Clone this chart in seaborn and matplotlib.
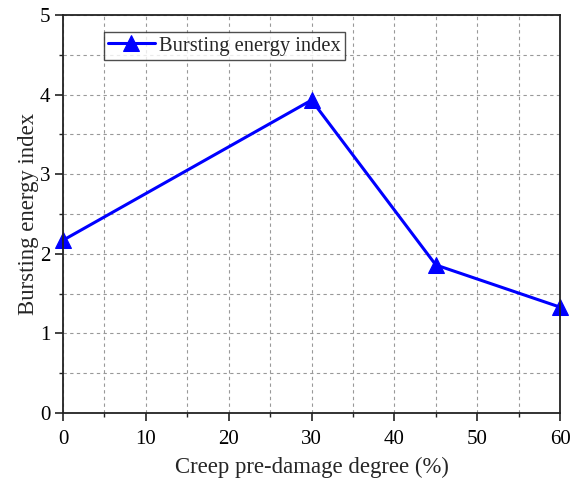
import matplotlib
matplotlib.use("Agg")
import matplotlib.pyplot as plt
import seaborn as sns
import pandas as pd
from matplotlib.ticker import MultipleLocator

degree = [0, 30, 45, 60]
energy_index = [2.17, 3.93, 1.86, 1.33]
series_name = "Bursting energy index"

df = pd.DataFrame({"x": degree, "y": energy_index})

sns.set_style("white")
plt.rcParams["font.family"] = ["Liberation Serif", "DejaVu Serif"]
plt.rcParams["mathtext.fontset"] = "stix"

fig = plt.figure(figsize=(5.8, 4.86), dpi=100)
ax = fig.add_axes([0.1086, 0.1502, 0.857, 0.819])

sns.lineplot(data=df, x="x", y="y", ax=ax, color="#0000ff", lw=2.2,
             marker="^", markersize=12, markeredgecolor="#0000ff",
             label=series_name)

ax.set_xlim(0, 60)
ax.set_ylim(0, 5)
ax.xaxis.set_major_locator(MultipleLocator(10))
ax.xaxis.set_minor_locator(MultipleLocator(5))
ax.yaxis.set_major_locator(MultipleLocator(1))
ax.yaxis.set_minor_locator(MultipleLocator(0.5))
ax.grid(True, which="both", ls=(0, (3, 3)), color="#999999", lw=0.8)
ax.set_axisbelow(True)
for s in ax.spines.values():
    s.set_color("#222222")
    s.set_linewidth(1.3)
ax.tick_params(which="major", direction="out", length=6, width=1.2, labelsize=15,
               left=True, bottom=True, colors="#222222", pad=3)
ax.tick_params(axis="x", which="major", pad=6)
ax.tick_params(which="minor", direction="out", length=3, width=1.0,
               left=True, bottom=True, colors="#222222")
ax.tick_params(labelcolor="black")
ax.set_xlabel("Creep pre-damage degree (%)", fontsize=16.4, labelpad=6)
ax.set_ylabel("Bursting energy index", fontsize=16.4, labelpad=0.5)
for l in ax.lines:
    l.set_clip_on(False)

leg = ax.legend(loc="upper left", bbox_to_anchor=(0.082, 0.957), fontsize=14.8,
                frameon=True, fancybox=False, edgecolor="#222222",
                handlelength=2.3, borderpad=0.2, handletextpad=0.2,
                borderaxespad=0)
leg.get_frame().set_linewidth(1.0)

fig.savefig("out.png", dpi=100)
